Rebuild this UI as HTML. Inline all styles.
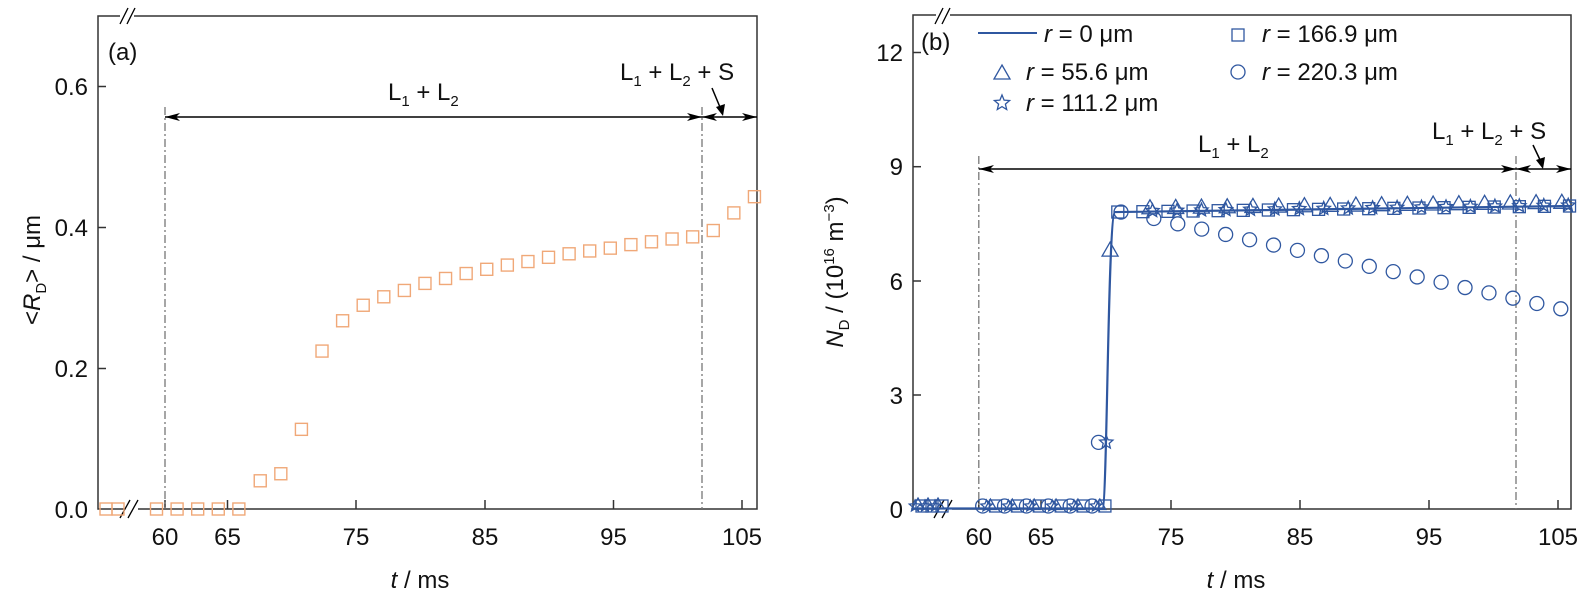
<!DOCTYPE html>
<html><head><meta charset="utf-8"><style>
html,body{margin:0;padding:0;background:#fff}
svg{display:block;font-family:"Liberation Sans",sans-serif}
</style></head><body>
<svg width="1583" height="601" viewBox="0 0 1583 601" xmlns="http://www.w3.org/2000/svg">
<g id="left">
<rect x="98" y="16" width="659" height="493" fill="none" stroke="#333" stroke-width="1.5"/>
<g stroke="#333" stroke-width="1.5">
<line x1="98" y1="86.5" x2="106" y2="86.5"/><line x1="98" y1="227.5" x2="106" y2="227.5"/><line x1="98" y1="368.5" x2="106" y2="368.5"/>
<line x1="165" y1="509" x2="165" y2="500"/><line x1="227.5" y1="509" x2="227.5" y2="500"/><line x1="356" y1="509" x2="356" y2="500"/><line x1="485" y1="509" x2="485" y2="500"/><line x1="613.5" y1="509" x2="613.5" y2="500"/><line x1="742" y1="509" x2="742" y2="500"/>
</g>
<rect x="124" y="505" width="14" height="8" fill="#fff"/><rect x="120" y="12" width="14" height="8" fill="#fff"/>
<g stroke="#000" stroke-width="1.3"><line x1="120" y1="518" x2="130" y2="500"/><line x1="128" y1="518" x2="138" y2="500"/>
<line x1="120" y1="24" x2="128" y2="8"/><line x1="127" y1="24" x2="135" y2="8"/></g>
<g font-size="24" fill="#111" text-anchor="end">
<text x="88" y="95">0.6</text><text x="88" y="236">0.4</text><text x="88" y="377">0.2</text><text x="88" y="518">0.0</text></g>
<g font-size="24" fill="#111" text-anchor="middle">
<text x="165" y="545">60</text><text x="227.5" y="545">65</text><text x="356" y="545">75</text><text x="485" y="545">85</text><text x="613.5" y="545">95</text><text x="742" y="545">105</text>
<text x="420" y="588"><tspan font-style="italic">t</tspan> / ms</text></g>
<text transform="translate(40,270) rotate(-90)" font-size="24" text-anchor="middle" fill="#111">&lt;<tspan font-style="italic">R</tspan><tspan font-size="15" dy="6">D</tspan><tspan dy="-6">&gt; / μm</tspan></text>
<text x="108" y="60" font-size="24" fill="#111">(a)</text>
<g stroke="#777" stroke-width="1.3" stroke-dasharray="8,3,2,3"><line x1="165" y1="107" x2="165" y2="509"/><line x1="702" y1="107" x2="702" y2="509"/></g>
<line x1="165" y1="117" x2="702" y2="117" stroke="#000" stroke-width="1.5"/>
<path d="M180,113 L165,117 L180,121 L176,117 z" fill="#000"/>
<path d="M687,113 L702,117 L687,121 L691,117 z" fill="#000"/>
<line x1="702" y1="117" x2="757" y2="117" stroke="#000" stroke-width="1.5"/>
<path d="M717,113 L702,117 L717,121 L713,117 z" fill="#000"/><path d="M742,113 L757,117 L742,121 L746,117 z" fill="#000"/>
<line x1="712" y1="88" x2="722" y2="112" stroke="#000" stroke-width="1.5"/><path d="M716,107 L723,116 L725,104 z" fill="#000"/>
<g font-size="24" fill="#111">
<text x="388" y="100">L<tspan font-size="15" dy="6">1</tspan><tspan dy="-6"> + L</tspan><tspan font-size="15" dy="6">2</tspan></text>
<text x="620" y="80">L<tspan font-size="15" dy="6">1</tspan><tspan dy="-6"> + L</tspan><tspan font-size="15" dy="6">2</tspan><tspan dy="-6"> + S</tspan></text></g>
<g stroke="#f0a878" stroke-width="1.4" fill="none" id="lsq"></g>
</g>
<g id="right">
<rect x="913" y="15" width="658" height="494" fill="none" stroke="#333" stroke-width="1.5"/>
<g stroke="#333" stroke-width="1.5">
<line x1="913" y1="52.5" x2="921" y2="52.5"/><line x1="913" y1="166.7" x2="921" y2="166.7"/><line x1="913" y1="281" x2="921" y2="281"/><line x1="913" y1="395" x2="921" y2="395"/>
<line x1="978.8" y1="509" x2="978.8" y2="500"/><line x1="1041" y1="509" x2="1041" y2="500"/><line x1="1171" y1="509" x2="1171" y2="500"/><line x1="1300" y1="509" x2="1300" y2="500"/><line x1="1429" y1="509" x2="1429" y2="500"/><line x1="1558" y1="509" x2="1558" y2="500"/>
</g>
<rect x="938" y="505" width="14" height="8" fill="#fff"/><rect x="936" y="11" width="14" height="8" fill="#fff"/>
<g stroke="#000" stroke-width="1.3"><line x1="934" y1="518" x2="944" y2="500"/><line x1="942" y1="518" x2="952" y2="500"/>
<line x1="935" y1="24" x2="943" y2="8"/><line x1="942" y1="24" x2="950" y2="8"/></g>
<g font-size="24" fill="#111" text-anchor="end">
<text x="903" y="61">12</text><text x="903" y="175">9</text><text x="903" y="290">6</text><text x="903" y="404">3</text><text x="903" y="518">0</text></g>
<g font-size="24" fill="#111" text-anchor="middle">
<text x="978.8" y="545">60</text><text x="1041" y="545">65</text><text x="1171" y="545">75</text><text x="1300" y="545">85</text><text x="1429" y="545">95</text><text x="1558" y="545">105</text>
<text x="1236" y="588"><tspan font-style="italic">t</tspan> / ms</text></g>
<text transform="translate(843,272) rotate(-90)" font-size="24" text-anchor="middle" fill="#111"><tspan font-style="italic">N</tspan><tspan font-size="15" dy="6">D</tspan><tspan dy="-6"> / (10</tspan><tspan font-size="15" dy="-9">16</tspan><tspan dy="9"> m</tspan><tspan font-size="15" dy="-9">−3</tspan><tspan dy="9">)</tspan></text>
<text x="921" y="50" font-size="24" fill="#111">(b)</text>
<g stroke="#777" stroke-width="1.3" stroke-dasharray="8,3,2,3"><line x1="978.8" y1="156" x2="978.8" y2="509"/><line x1="1516" y1="156" x2="1516" y2="509"/></g>
<line x1="978.8" y1="169" x2="1571" y2="169" stroke="#000" stroke-width="1.5"/>
<path d="M994,165 L979,169 L994,173 L990,169 z" fill="#000"/><path d="M1501,165 L1516,169 L1501,173 L1505,169 z" fill="#000"/>
<path d="M1531,165 L1516,169 L1531,173 L1527,169 z" fill="#000"/><path d="M1556,165 L1571,169 L1556,173 L1560,169 z" fill="#000"/>
<line x1="1533" y1="145" x2="1542" y2="164" stroke="#000" stroke-width="1.5"/><path d="M1536,160 L1543,169 L1545,157 z" fill="#000"/>
<g font-size="24" fill="#111">
<text x="1198" y="152">L<tspan font-size="15" dy="6">1</tspan><tspan dy="-6"> + L</tspan><tspan font-size="15" dy="6">2</tspan></text>
<text x="1432" y="139">L<tspan font-size="15" dy="6">1</tspan><tspan dy="-6"> + L</tspan><tspan font-size="15" dy="6">2</tspan><tspan dy="-6"> + S</tspan></text></g>
<g font-size="24" fill="#111">
<line x1="978" y1="33" x2="1037" y2="33" stroke="#2f57a0" stroke-width="2"/>
<text x="1044" y="42"><tspan font-style="italic">r</tspan> = 0 μm</text>
<text x="1026" y="80"><tspan font-style="italic">r</tspan> = 55.6 μm</text>
<text x="1026" y="111"><tspan font-style="italic">r</tspan> = 111.2 μm</text>
<text x="1262" y="42"><tspan font-style="italic">r</tspan> = 166.9 μm</text>
<text x="1262" y="80"><tspan font-style="italic">r</tspan> = 220.3 μm</text>
</g>
<g stroke="#2f57a0" stroke-width="1.3" fill="none" id="rm"></g>
<path id="rline" fill="none" stroke="#2f57a0" stroke-width="2.2"/>
</g>
<script>
var NS="http://www.w3.org/2000/svg";
function el(p,t,a){var e=document.createElementNS(NS,t);for(var k in a)e.setAttribute(k,a[k]);p.appendChild(e);return e;}
var L=document.getElementById("lsq");
var vals=[0.04,0.05,0.113,0.224,0.267,0.289,0.301,0.31,0.32,0.327,0.334,0.34,0.346,0.351,0.357,0.362,0.366,0.37,0.375,0.379,0.383,0.386,0.395,0.42,0.443];
function lx(t){return 165+(t-60)*12.87;}
[106,118].forEach(function(x){el(L,"rect",{x:x-6,y:503,width:12,height:12});});
for(var i=0;i<5;i++){var x=lx(59.34+i*1.6);el(L,"rect",{x:x-6,y:503,width:12,height:12});}
vals.forEach(function(v,i){var x=lx(67.4+i*1.6),y=509-v*705;el(L,"rect",{x:x-6,y:y-6,width:12,height:12});});
var R=document.getElementById("rm");
function rx(t){return 978.8+(t-60)*12.87;}
function ry(v){return 509-v*38.07;}
function tri(x,y,s){s=s||8;el(R,"path",{d:"M"+x+","+(y-s)+" L"+(x+s)+","+(y+s*0.75)+" L"+(x-s)+","+(y+s*0.75)+" Z"});}
function star(x,y,r){r=r||7;var d="";for(var i=0;i<10;i++){var a=-Math.PI/2+i*Math.PI/5,rr=i%2?r*0.45:r;d+=(i?"L":"M")+(x+rr*Math.cos(a)).toFixed(1)+","+(y+rr*Math.sin(a)).toFixed(1);}el(R,"path",{d:d+"Z"});}
function sq(x,y){el(R,"rect",{x:x-6,y:y-6,width:12,height:12});}
function ci(x,y){el(R,"circle",{cx:x,cy:y,r:7});}
tri(1002,73,8);star(1002,103,8);sq(1238,35);ci(1238,72);
var d="M913,508.5 L"+rx(69.6)+",508.5 C"+rx(70.0)+",508 "+rx(70.0)+","+ry(7.8)+" "+rx(70.6)+","+ry(7.8)+" L1571,"+ry(7.96);
document.getElementById("rline").setAttribute("d",d);
function lv(t){return 7.8+(t-70.6)*0.0045;}
[918,928,938].forEach(function(x){tri(x,504,6);sq(x+4,506);star(x-3,506,6);});
for(var t=60.3;t<69;t+=1.7){ci(rx(t),506);tri(rx(t+0.6),505,6);sq(rx(t+1.0),506);star(rx(t+0.3),506,6);}
ci(rx(69.3),ry(1.75));ci(rx(71.05),ry(7.8));
for(var k=0;k<18;k++){var t=73.6+k*1.86;ci(rx(t),ry(7.75-0.075*(t-72)));}
star(rx(69.9),ry(1.75));
for(var t=73.5;t<106.5;t+=1.9)star(rx(t),ry(lv(t)+0.02));
tri(rx(70.2),ry(6.8));
for(var t=73.3;t<106.5;t+=2.0)tri(rx(t),ry(lv(t)+0.1));
for(var t=70.8;t<106.5;t+=1.95)sq(rx(t),ry(lv(t)));
</script>
</svg>
</body></html>
